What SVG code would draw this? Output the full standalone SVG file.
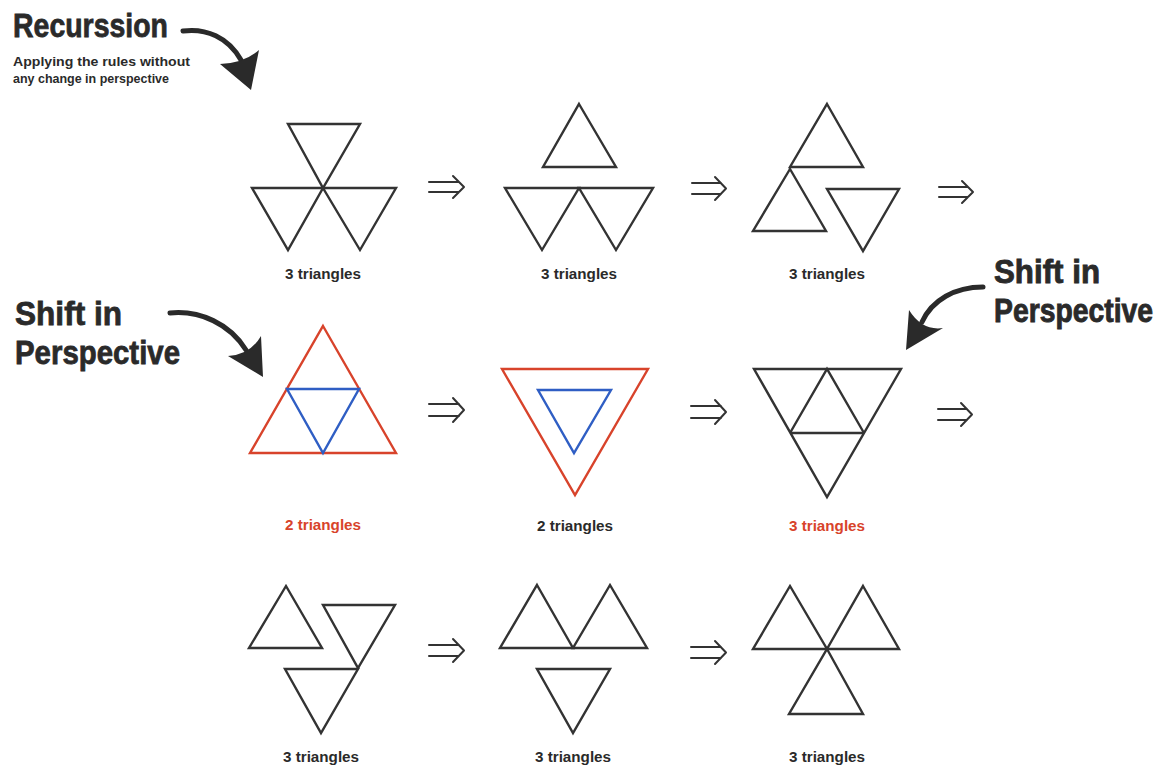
<svg xmlns="http://www.w3.org/2000/svg" width="1167" height="770" viewBox="0 0 1167 770">
<style>
.t{fill:none;stroke:#333;stroke-width:2.4;stroke-linejoin:miter}
.r{fill:none;stroke:#d8432b;stroke-width:2.4}
.b{fill:none;stroke:#2f5ec4;stroke-width:2.4}
.lab{font-family:"Liberation Sans",Arial,sans-serif;font-weight:bold;font-size:14px;fill:#2a2a2a;text-anchor:middle}
.red{fill:#d8432b}
.big{font-family:"Liberation Sans",Arial,sans-serif;font-weight:bold;font-size:34px;fill:#2a2a2a;stroke:#2a2a2a;stroke-width:0.8}
.sub{font-family:"Liberation Sans",Arial,sans-serif;font-weight:bold;font-size:13px;fill:#2a2a2a}
.da{fill:none;stroke:#333;stroke-width:2;stroke-linecap:round;stroke-linejoin:round}
.cs{fill:none;stroke:#2a2a2a;stroke-width:5;stroke-linecap:round}
.ch{fill:#2a2a2a}
</style>
<rect width="1167" height="770" fill="#fff"/>

<g id="title-recursion">
<text class="big" x="13" y="37" textLength="155" lengthAdjust="spacingAndGlyphs">Recurssion</text>
<text class="sub" x="13" y="66" textLength="177" lengthAdjust="spacingAndGlyphs">Applying the rules without</text>
<text class="sub" x="13" y="83" textLength="156" lengthAdjust="spacingAndGlyphs">any change in perspective</text>
</g>
<g id="title-shift-left">
<text class="big" x="15" y="325" textLength="107" lengthAdjust="spacingAndGlyphs">Shift in</text>
<text class="big" x="15" y="364" textLength="165" lengthAdjust="spacingAndGlyphs">Perspective</text>
</g>
<g id="title-shift-right">
<text class="big" transform="translate(994,283) scale(1,1.13)" x="0" y="0" style="font-size:30px" textLength="106" lengthAdjust="spacingAndGlyphs">Shift in</text>
<text class="big" transform="translate(994,322) scale(1,1.13)" x="0" y="0" style="font-size:30px" textLength="159" lengthAdjust="spacingAndGlyphs">Perspective</text>
</g>

<!-- Row 1 -->
<g id="r1c1">
<polygon class="t" points="288,124 360,124 323,188"/>
<polygon class="t" points="252,188 323,188 288,250"/>
<polygon class="t" points="323,188 396,188 360,250"/>
<text class="lab" x="323" y="279" textLength="76" lengthAdjust="spacingAndGlyphs">3 triangles</text>
</g>
<g id="r1c2">
<polygon class="t" points="579,104 616,167 543,167"/>
<polygon class="t" points="505,188 579,188 542,250"/>
<polygon class="t" points="579,188 653,188 616,250"/>
<text class="lab" x="579" y="279" textLength="76" lengthAdjust="spacingAndGlyphs">3 triangles</text>
</g>
<g id="r1c3">
<polygon class="t" points="827,104 863,167 790,167"/>
<polygon class="t" points="790,169 826,231 753,231"/>
<polygon class="t" points="827,189 899,189 863,251"/>
<text class="lab" x="827" y="279" textLength="76" lengthAdjust="spacingAndGlyphs">3 triangles</text>
</g>

<!-- Row 2 -->
<g id="r2c1">
<polygon class="r" points="323,326 396,453 250,453"/>
<polygon class="b" points="287,389 359,389 323,453"/>
<text class="lab red" x="323" y="530" textLength="76" lengthAdjust="spacingAndGlyphs">2 triangles</text>
</g>
<g id="r2c2">
<polygon class="r" points="502,369 648,369 575,495"/>
<polygon class="b" points="538,390 611,390 574,453"/>
<text class="lab" x="575" y="531" textLength="76" lengthAdjust="spacingAndGlyphs">2 triangles</text>
</g>
<g id="r2c3">
<polygon class="t" points="754,369 901,369 827,497"/>
<polyline class="t" points="790,433 827,369 864,433"/>
<line class="t" x1="790" y1="433" x2="864" y2="433"/>
<text class="lab red" x="827" y="531" textLength="76" lengthAdjust="spacingAndGlyphs">3 triangles</text>
</g>

<!-- Row 3 -->
<g id="r3c1">
<polygon class="t" points="286,586 322,648 249,648"/>
<polygon class="t" points="323,605 395,605 358,668"/>
<polygon class="t" points="285,669 358,669 321,733"/>
<text class="lab" x="321" y="762" textLength="76" lengthAdjust="spacingAndGlyphs">3 triangles</text>
</g>
<g id="r3c2">
<polygon class="t" points="537,585 573,648 500,648"/>
<polygon class="t" points="610,585 647,648 573,648"/>
<polygon class="t" points="537,669 610,669 573,733"/>
<text class="lab" x="573" y="762" textLength="76" lengthAdjust="spacingAndGlyphs">3 triangles</text>
</g>
<g id="r3c3">
<polygon class="t" points="790,586 827,649 753,649"/>
<polygon class="t" points="863,586 899,649 827,649"/>
<polygon class="t" points="827,649 863,714 789,714"/>
<text class="lab" x="827" y="762" textLength="76" lengthAdjust="spacingAndGlyphs">3 triangles</text>
</g>

<g id="connectors">
<!-- double arrows -->
<path class="da" d="M429,182 H459 M429,192 H459 M453,176 L464,187 L453,198"/>
<path class="da" d="M692,183 H721 M692,194 H721 M715,177 L726,188.5 L715,200"/>
<path class="da" d="M939,187 H968 M939,197 H968 M962,181 L973,192 L962,203"/>
<path class="da" d="M429,404 H459 M429,416 H459 M453,398 L464,410 L453,422"/>
<path class="da" d="M691,406 H721 M691,418 H721 M715,400 L726,412 L715,424"/>
<path class="da" d="M938,409 H967 M938,420 H967 M961,403 L972,414.5 L961,426"/>
<path class="da" d="M429,645 H459 M429,656 H459 M453,639 L464,650.5 L453,662"/>
<path class="da" d="M691,647 H721 M691,658 H721 M715,641 L726,652.5 L715,664"/>
<!-- curved callout arrows -->
<path class="cs" d="M183,31 C206,28 228,37 241,60"/>
<path class="ch" d="M220,64 L251,90 L259,50 Q244,63 220,64 Z"/>
<path class="cs" d="M170,313 C200,310 230,324 246,350"/>
<path class="ch" d="M228,356 L263,377 L261,336 Q250,355 228,356 Z"/>
<path class="cs" d="M983,287 C955,287 932,300 922,322"/>
<path class="ch" d="M909,310 L906,350 L943,328 Q922,331 909,310 Z"/>
</g>
</svg>
